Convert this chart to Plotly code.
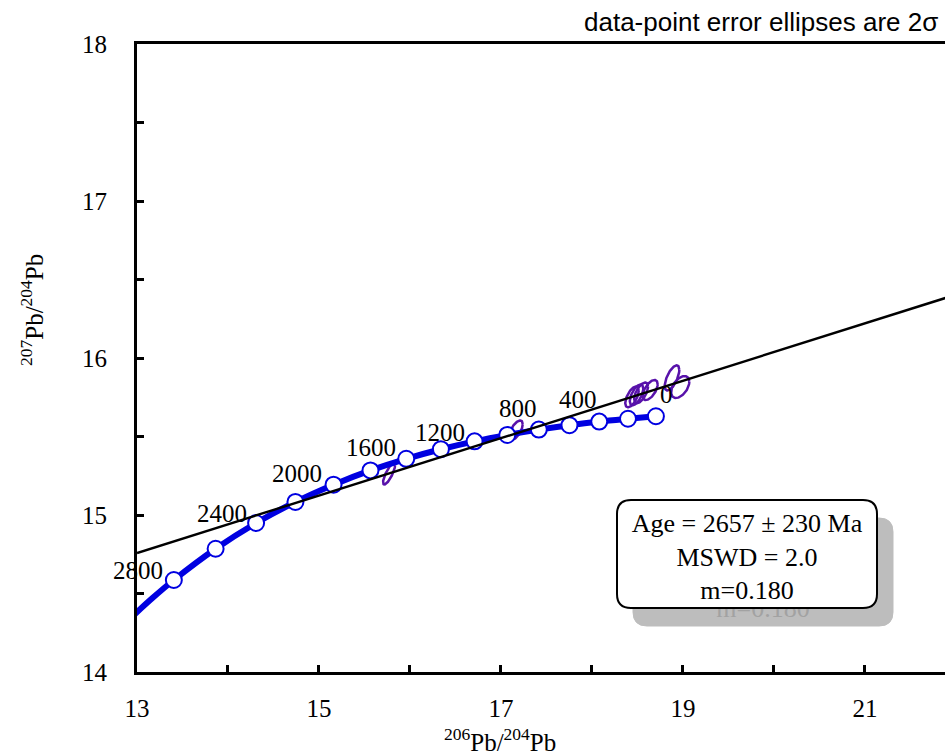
import numpy as np
import plotly.graph_objects as go

# ---------------- data ----------------
# Stacey-Kramers growth-curve tick points (age in Ma)
ages = [2800, 2600, 2400, 2200, 2000, 1800, 1600, 1400, 1200, 1000, 800, 600, 400, 200, 0]
curve_x = [13.405, 13.864, 14.309, 14.741, 15.160, 15.566, 15.959, 16.340, 16.710,
           17.069, 17.416, 17.753, 18.080, 18.396, 18.703]
curve_y = [14.586, 14.785, 14.949, 15.083, 15.193, 15.284, 15.358, 15.419, 15.469,
           15.510, 15.544, 15.572, 15.595, 15.613, 15.629]
# part of the curve running out to the left edge
curve_ext_x = [12.930, 13.170]
curve_ext_y = [14.344, 14.471]
label_ages = [2800, 2400, 2000, 1600, 1200, 800, 400, 0]

# isochron line end points
iso_x = [13.0, 21.9]
iso_y = [14.758, 16.385]

# data-point error ellipses (2 sigma): centre, half-widths, correlation
ell_x = [15.770, 17.165, 18.440, 18.490, 18.540, 18.640, 18.880, 18.970]
ell_sx = [0.066, 0.074, 0.074, 0.074, 0.076, 0.082, 0.080, 0.100]
ell_y = [15.262, 15.540, 15.752, 15.765, 15.778, 15.796, 15.873, 15.815]
ell_sy = [0.068, 0.062, 0.066, 0.066, 0.066, 0.064, 0.080, 0.070]
ell_rho = [0.80, 0.62, 0.60, 0.60, 0.60, 0.58, 0.64, 0.48]

x_ticks = [13, 15, 17, 19, 21]
y_ticks = [14, 15, 16, 17, 18]

box_lines = ["Age = 2657 ± 230 Ma", "MSWD = 2.0", "m=0.180"]

# ---------------- figure ----------------
L, R, T, B = 137, 945, 44, 672
W, H = 945, 754
def px2x(p):
    return (p - L) / (R - L)
def py2y(p):
    return (B - p) / (B - T)

fig = go.Figure()

# error ellipses
t = np.linspace(0, 2 * np.pi, 120)
ex, ey = [], []
for cx, sx, cy, sy, r in zip(ell_x, ell_sx, ell_y, ell_sy, ell_rho):
    ex += list(cx + sx * np.cos(t)) + [None]
    ey += list(cy + sy * (r * np.cos(t) + np.sqrt(1 - r * r) * np.sin(t))) + [None]
fig.add_trace(go.Scatter(x=ex, y=ey, mode="lines",
                         line=dict(color="rgb(88,18,170)", width=2.5),
                         hoverinfo="skip"))

# growth curve
fig.add_trace(go.Scatter(x=curve_ext_x + curve_x, y=curve_ext_y + curve_y, mode="lines",
                         line=dict(color="rgb(0,0,225)", width=6, shape="spline"),
                         hoverinfo="skip"))
fig.add_trace(go.Scatter(x=curve_x, y=curve_y, mode="markers",
                         marker=dict(size=16, color="white",
                                     line=dict(color="rgb(0,0,225)", width=2)),
                         cliponaxis=False))

# isochron
fig.add_trace(go.Scatter(x=iso_x, y=iso_y, mode="lines",
                         line=dict(color="black", width=2.4), hoverinfo="skip"))

# age labels
shifts = {2800: (-9, 10, "right"), 2400: (-7, 10, "right"), 2000: (-10, 11, "right"),
          1600: (-8, 11, "right"), 1200: (-8, 9, "right"), 800: (0, 21, "right"),
          400: (0, 22, "right"), 0: (11, 22, "center")}
for a in label_ages:
    i = ages.index(a)
    dx, dy, anc = shifts[a]
    fig.add_annotation(x=curve_x[i], y=curve_y[i], text=str(a), showarrow=False,
                       xanchor=anc, yanchor="middle", xshift=dx, yshift=dy,
                       font=dict(family="Liberation Serif", size=25, color="black"))

# result box with shadow
def rrect(x0p, y0p, x1p, y1p, rad):
    x0, x1 = px2x(x0p), px2x(x1p)
    yt, yb = py2y(y0p), py2y(y1p)
    rx, ry = rad / (R - L), rad / (B - T)
    return (f"M {x0+rx},{yt} L {x1-rx},{yt} Q {x1},{yt} {x1},{yt-ry} "
            f"L {x1},{yb+ry} Q {x1},{yb} {x1-rx},{yb} L {x0+rx},{yb} "
            f"Q {x0},{yb} {x0},{yb+ry} L {x0},{yt-ry} Q {x0},{yt} {x0+rx},{yt} Z")

box_text = "<br>".join(box_lines)
fig.add_shape(type="path", path=rrect(633, 518, 893, 626, 14), xref="paper", yref="paper",
              fillcolor="#bdbdbd", line=dict(color="#bdbdbd", width=1), layer="above",
              label=dict(text=box_text, font=dict(family="Liberation Serif", size=26,
                                                  color="#a2a2a2")))
fig.add_shape(type="path", path=rrect(617, 500, 877, 608, 14), xref="paper", yref="paper",
              fillcolor="white", line=dict(color="black", width=2), layer="above",
              label=dict(text=box_text, font=dict(family="Liberation Serif", size=26,
                                                  color="black")))

# axis titles and header
fig.add_annotation(x=px2x(500), y=py2y(740), xref="paper", yref="paper",
                   text="<sup>206</sup>Pb/<sup>204</sup>Pb", showarrow=False,
                   xanchor="center", yanchor="middle",
                   font=dict(family="Liberation Serif", size=25, color="black"))
fig.add_annotation(x=px2x(32), y=py2y(310), xref="paper", yref="paper",
                   text="<sup>207</sup>Pb/<sup>204</sup>Pb", showarrow=False, textangle=-90,
                   xanchor="center", yanchor="middle",
                   font=dict(family="Liberation Serif", size=25, color="black"))
fig.add_annotation(x=px2x(940), y=py2y(22), xref="paper", yref="paper",
                   text="data-point error ellipses are 2σ", showarrow=False,
                   xanchor="right", yanchor="middle",
                   font=dict(family="Liberation Sans", size=26, color="black"))

axis_common = dict(showgrid=False, zeroline=False, showline=True, linecolor="black",
                   linewidth=3, ticks="inside", ticklen=7, tickwidth=2.5, tickcolor="black",
                   tickfont=dict(family="Liberation Serif", size=25, color="black"))
fig.update_xaxes(range=[13, 21.88], tickvals=x_ticks, mirror=True, ticklabelstandoff=12,
                 minor=dict(ticks="inside", dtick=1, tick0=13, ticklen=7, tickwidth=2.5,
                            tickcolor="black", showgrid=False),
                 **axis_common)
fig.update_yaxes(range=[14, 18], tickvals=y_ticks, ticklabelstandoff=22,
                 minor=dict(ticks="inside", dtick=0.5, tick0=14, ticklen=7, tickwidth=2.5,
                            tickcolor="black", showgrid=False),
                 **axis_common)

fig.update_layout(width=W, height=H, margin=dict(l=L, r=W - R, t=T, b=H - B),
                  plot_bgcolor="white", paper_bgcolor="white", showlegend=False,
                  font=dict(family="Liberation Serif", size=25, color="black"))

fig.write_html("out.html", config={"displayModeBar": False},
               post_script="document.body.style.margin='0';document.body.style.overflow='hidden';")
